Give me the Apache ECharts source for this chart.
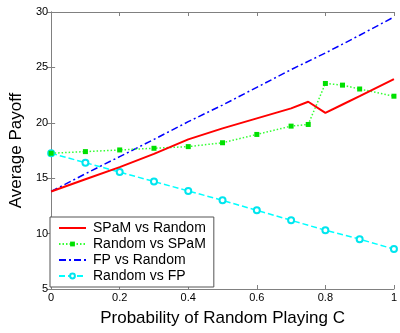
<!DOCTYPE html>
<html>
<head>
<meta charset="utf-8">
<script src="https://cdn.jsdelivr.net/npm/echarts@6/dist/echarts.min.js"></script>
<style>
  html, body { margin: 0; padding: 0; background: #fff; }
  #chart { width: 400px; height: 333px; }
</style>
</head>
<body>
<div id="chart"></div>
<script>
// x positions (probability of Random playing C)
const probsFine = [0, 0.1, 0.2, 0.3, 0.4, 0.5, 0.6, 0.7, 0.75, 0.8, 0.85, 0.9, 1.0];
const probs = [0, 0.1, 0.2, 0.3, 0.4, 0.5, 0.6, 0.7, 0.8, 0.9, 1.0];

const spamVsRandom = [13.8, 14.9, 16.0, 17.2, 18.5, 19.5, 20.4, 21.3, 21.9, 20.9, 21.65, 22.4, 23.95];
const randomVsSpam = [17.25, 17.4, 17.55, 17.7, 17.85, 18.2, 18.95, 19.7, 19.85, 23.55, 23.4, 23.05, 22.4];
const fpVsRandom = [13.8, 15.4, 16.95, 18.5, 20.1, 21.6, 23.2, 24.8, 26.3, 27.9, 29.55];
const randomVsFp = [17.25, 16.4, 15.55, 14.7, 13.85, 13.0, 12.1, 11.2, 10.3, 9.5, 8.6];

const seriesNames = ['SPaM vs Random', 'Random vs SPaM', 'FP vs Random', 'Random vs FP'];

const pair = (xs, ys) => ys.map((y, i) => [xs[i], y]);

const chart = echarts.init(document.getElementById('chart'));
const font = 'Liberation Sans, Arial, sans-serif';
const axisGray = '#808080';

// top / right box edges, ticks only (matlab style frame)
const hiddenAxis = {
  axisLine: { show: true, lineStyle: { color: axisGray, width: 1 } },
  axisTick: { show: true, inside: true, length: 4, lineStyle: { color: axisGray } },
  axisLabel: { show: false },
  splitLine: { show: false },
};

chart.setOption({
  animation: false,
  textStyle: { fontFamily: font },
  grid: { left: 48, right: 1, top: 12, bottom: 44 },
  xAxis: [
    {
      type: 'value',
      min: 0,
      max: 1,
      interval: 0.2,
      position: 'bottom',
      name: 'Probability of Random Playing C',
      nameLocation: 'middle',
      nameGap: 21,
      nameTextStyle: { fontSize: 17, color: '#000', fontFamily: font },
      axisLine: { show: true, lineStyle: { color: axisGray, width: 1 } },
      axisTick: { show: true, inside: true, length: 4, lineStyle: { color: axisGray } },
      axisLabel: {
        color: '#000', fontSize: 11, margin: 3, fontFamily: font,
        formatter: (v) => String(+v.toFixed(1)),
      },
      splitLine: { show: false },
    },
    { type: 'value', min: 0, max: 1, interval: 0.2, position: 'top', ...hiddenAxis },
  ],
  yAxis: [
    {
      type: 'value',
      min: 5,
      max: 30,
      interval: 5,
      position: 'left',
      name: 'Average Payoff',
      nameLocation: 'middle',
      nameGap: 21,
      nameTextStyle: { fontSize: 17, color: '#000', fontFamily: font },
      axisLine: { show: true, lineStyle: { color: axisGray, width: 1 } },
      axisTick: { show: true, inside: true, length: 4, lineStyle: { color: axisGray } },
      axisLabel: { color: '#000', fontSize: 11, margin: 3, fontFamily: font },
      splitLine: { show: false },
    },
    { type: 'value', min: 5, max: 30, interval: 5, position: 'right', ...hiddenAxis },
  ],
  legend: {
    orient: 'vertical',
    left: 50,
    top: 217,
    itemWidth: 27,
    itemHeight: 6,
    itemGap: 0,
    padding: [3, 8, 3, 8],
    borderColor: '#555',
    borderWidth: 1,
    borderRadius: 0,
    backgroundColor: '#fff',
    textStyle: { fontSize: 14, color: '#000', lineHeight: 16, fontFamily: font, padding: [0, 0, 0, 2] },
    data: seriesNames,
  },
  series: [
    {
      name: seriesNames[0],
      type: 'line',
      data: pair(probsFine, spamVsRandom),
      symbol: 'none',
      lineStyle: { color: '#ff0000', width: 2 },
      itemStyle: { color: '#ff0000', opacity: 0 }, // hide legend dot
      z: 4,
    },
    {
      name: seriesNames[1],
      type: 'line',
      data: pair(probsFine, randomVsSpam),
      symbol: 'rect',
      symbolSize: 5,
      lineStyle: { color: '#33ff33', width: 1.5, type: [1.5, 2] },
      itemStyle: { color: '#00e000' },
      z: 3,
    },
    {
      name: seriesNames[2],
      type: 'line',
      data: pair(probs, fpVsRandom),
      symbol: 'none',
      lineStyle: { color: '#0000ff', width: 1.5, type: [7, 3, 2, 3] },
      itemStyle: { color: '#0000ff', opacity: 0 },
      z: 2,
    },
    {
      name: seriesNames[3],
      type: 'line',
      data: pair(probs, randomVsFp),
      symbol: 'emptyCircle',
      symbolSize: 6,
      lineStyle: { color: '#00ffff', width: 1.5, type: [6, 3] },
      itemStyle: { color: '#00e5ee', borderWidth: 1.5 },
      z: 1,
    },
  ],
});
</script>
</body>
</html>
